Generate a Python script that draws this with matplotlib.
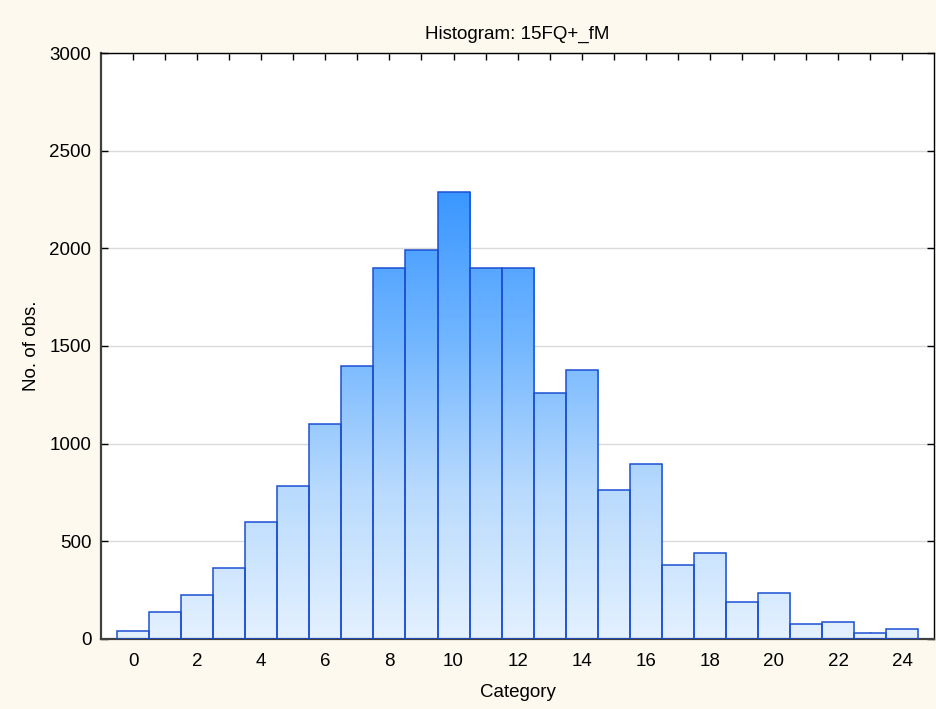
import numpy as np
import matplotlib
matplotlib.use('Agg')
import matplotlib.pyplot as plt
from matplotlib.colors import LinearSegmentedColormap
from matplotlib.ticker import MultipleLocator

plt.rcParams['font.family'] = ['Liberation Sans', 'DejaVu Sans']

categories = list(range(25))
counts = [42, 138, 224, 363, 598, 782, 1100, 1400, 1900, 1990,
          2290, 1902, 1897, 1260, 1378, 760, 893, 379, 438, 186,
          233, 78, 85, 29, 48]
title = 'Histogram: 15FQ+_fM'
xlabel = 'Category'
ylabel = 'No. of obs.'

bg = '#fdf9ee'
fs = 13.5
fig = plt.figure(figsize=(9.36, 7.09), dpi=100, facecolor=bg)
ax = fig.add_axes([0.108, 0.099, 0.89, 0.826])
ax.set_facecolor('white')

# vertical gradient shared by all bars, light at the bottom, blue at the top
cmap = LinearSegmentedColormap.from_list('blu', ['#e4f1ff', '#b8dafd', '#72b6ff', '#3a97ff'])
grad = np.linspace(0, 1, 256).reshape(-1, 1)
top = max(counts)

bars = ax.bar(categories, counts, width=1.0, facecolor='none',
              edgecolor='#1c4fd2', linewidth=1.1, zorder=3)
for b in bars:
    im = ax.imshow(grad, cmap=cmap, origin='lower', aspect='auto',
                   extent=(-1, 25, 0, top), zorder=2, interpolation='bilinear')
    im.set_clip_path(b)

ax.set_xlim(-1, 25)
ax.set_ylim(0, 3000)

ax.yaxis.set_major_locator(MultipleLocator(500))
ax.grid(axis='y', color='#dadada', linewidth=1.0, zorder=0)
ax.set_axisbelow(True)

ax.set_xticks(categories)
ax.set_xticklabels([str(c) if c % 2 == 0 else '' for c in categories])
ax.tick_params(direction='in', top=True, right=True, length=5, width=1,
               labelsize=fs, pad=10, colors='black')
ax.tick_params(axis='y', pad=7)

for s in ('left', 'bottom'):
    ax.spines[s].set_linewidth(1.6)
    ax.spines[s].set_color('#404040')
for s in ('top', 'right'):
    ax.spines[s].set_linewidth(1.0)
    ax.spines[s].set_color('black')

ax.set_title(title, fontsize=fs, pad=10)
ax.set_xlabel(xlabel, fontsize=fs, labelpad=10)
ax.set_ylabel(ylabel, fontsize=fs, labelpad=7)

fig.savefig('out.png', dpi=100, facecolor=bg)
